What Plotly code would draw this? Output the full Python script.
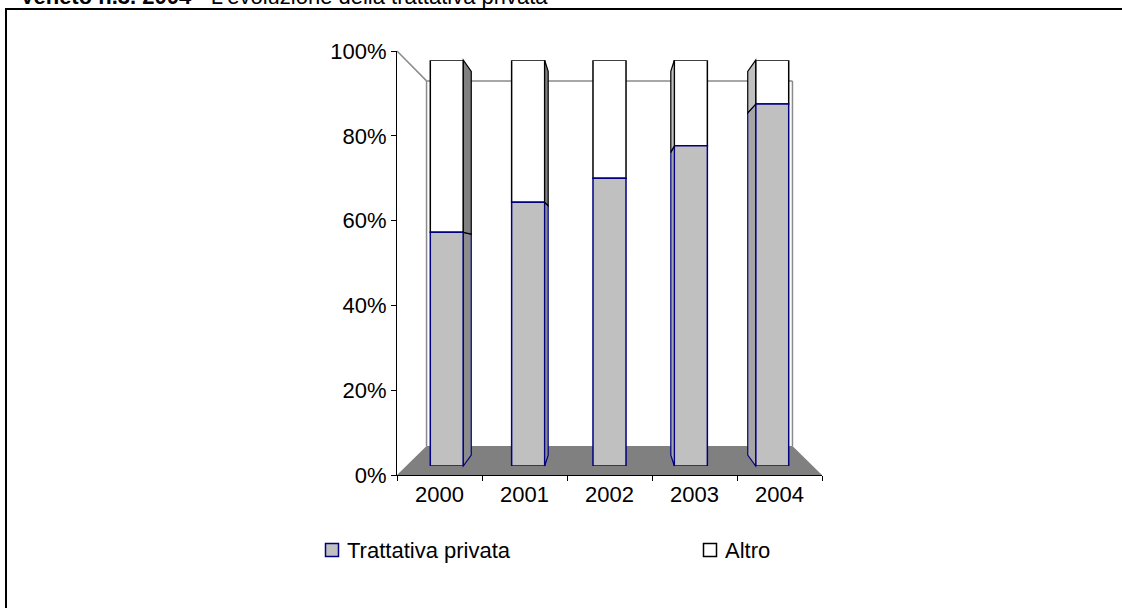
import plotly.graph_objects as go

# ---- data -------------------------------------------------------------
years = ["2000", "2001", "2002", "2003", "2004"]
trattativa_privata = [57.6, 65.0, 70.9, 78.9, 89.2]      # % share
altro = [round(100 - v, 1) for v in trattativa_privata]  # remaining share
y_ticks = [0, 20, 40, 60, 80, 100]
series_names = ["Trattativa privata", "Altro"]
title_bold = "Veneto n.3. 2004 - "
title_text = "L'evoluzione della trattativa privata"

# ---- page / pseudo-3D geometry (pixels) ------------------------------
W, H = 1122, 608
VPX, VPY = 609.5, 266.0          # vanishing point of the perspective box
FX0, FXW = 397.0, 85.0           # front plane: left edge, width of one category slot
FY0, FYS = 475.0, 4.24           # front plane: 0% baseline, pixels per percent
S_BAR_FRONT, S_BAR_BACK, S_WALL = 0.957, 0.905, 0.861
BAR_W = 0.406                    # bar width in category units
FONT = "Liberation Sans, Arial, sans-serif"
FS = 22

TRAT_FILL, TRAT_LINE = "#C0C0C0", "#000080"
ALT_FILL, ALT_LINE = "#FFFFFF", "#000000"


def proj(X, Y, s):
    """Project a box point (category units, percent, depth scale) to pixels."""
    px = VPX + (FX0 + FXW * X - VPX) * s
    py = VPY + (FY0 - FYS * Y - VPY) * s
    return px, py


def fx(px):
    return px / W


def fy(py):
    return (H - py) / H


def path(points):
    return "M " + " L ".join(f"{fx(x):.5f},{fy(y):.5f}" for x, y in points) + " Z"


n = len(years)
fig = go.Figure()

# invisible trace so the visible category axis carries the year labels
fig.add_trace(go.Scatter(x=years, y=[0] * n, mode="markers",
                         marker=dict(opacity=0), hoverinfo="skip",
                         showlegend=False, xaxis="x", yaxis="y"))

# bar front faces on the bar plane
fig.add_trace(go.Bar(x=years, y=altro, base=trattativa_privata, name=series_names[1],
                     marker=dict(color=ALT_FILL, line=dict(color=ALT_LINE, width=1.5)),
                     xaxis="x2", yaxis="y2", showlegend=False))
fig.add_trace(go.Bar(x=years, y=trattativa_privata, base=[0] * n, name=series_names[0],
                     marker=dict(color=TRAT_FILL, line=dict(color=TRAT_LINE, width=1.5)),
                     xaxis="x2", yaxis="y2", showlegend=False))

shapes = []

# floor
fl = [proj(0, 0, 1), proj(5, 0, 1), proj(5, 0, S_WALL), proj(0, 0, S_WALL)]
shapes.append(dict(type="path", path=path(fl), xref="paper", yref="paper",
                   fillcolor="#808080", line=dict(width=0), layer="below"))

# walls outline
wall_col = "#8a8a8a"
bl, tl = proj(0, 0, S_WALL), proj(0, 100, S_WALL)
tr, br = proj(5, 100, S_WALL), proj(5, 0, S_WALL)
ftl = proj(0, 100, 1)
for a, b in [(ftl, tl), (bl, tl), (tl, tr), (tr, br)]:
    shapes.append(dict(type="line", xref="paper", yref="paper",
                       x0=fx(a[0]), y0=fy(a[1]), x1=fx(b[0]), y1=fy(b[1]),
                       line=dict(color=wall_col, width=1.5), layer="below"))

# visible side faces of each bar
for i in range(n):
    c = i + 0.5
    cx, _ = proj(c, 0, S_BAR_FRONT)
    if abs(cx - VPX) < 1:
        continue
    right_side = cx < VPX
    X = c + BAR_W / 2 if right_side else c - BAR_W / 2
    segs = [(0, trattativa_privata[i], TRAT_LINE, "#8c8c8c" if right_side else "#a6a6a6"),
            (trattativa_privata[i], 100, ALT_LINE, "#808080" if right_side else "#c0c0c0")]
    for y0, y1, lc, fc in segs:
        pts = [proj(X, y0, S_BAR_FRONT), proj(X, y1, S_BAR_FRONT),
               proj(X, y1, S_BAR_BACK), proj(X, y0, S_BAR_BACK)]
        shapes.append(dict(type="path", path=path(pts), xref="paper", yref="paper",
                           fillcolor=fc, line=dict(color=lc, width=1.2), layer="above"))

# outer frame
shapes.append(dict(type="rect", xref="paper", yref="paper",
                   x0=fx(6), y0=fy(H + 20), x1=fx(W + 20), y1=fy(9),
                   line=dict(color="black", width=2), fillcolor="rgba(0,0,0,0)"))

# legend keys
legend_items = [(325.5, series_names[0], TRAT_FILL, TRAT_LINE),
                (703.5, series_names[1], ALT_FILL, ALT_LINE)]
annotations = []
for kx, label, fc, lc in legend_items:
    shapes.append(dict(type="rect", xref="paper", yref="paper",
                       x0=fx(kx), x1=fx(kx + 13), y0=fy(556.5), y1=fy(543.5),
                       fillcolor=fc, line=dict(color=lc, width=1.5)))
    annotations.append(dict(text=label, xref="paper", yref="paper",
                            x=fx(kx + 19), y=fy(550), xanchor="left", yanchor="middle",
                            showarrow=False, font=dict(family=FONT, size=FS, color="black")))

# heading
annotations.append(dict(text=f"<b>{title_bold}</b>{title_text}", xref="paper", yref="paper",
                        x=fx(18), y=fy(11), xanchor="left", yanchor="bottom",
                        showarrow=False, font=dict(family=FONT, size=FS, color="black")))

bx0, _ = proj(0, 0, S_BAR_FRONT)
bx1, _ = proj(5, 0, S_BAR_FRONT)
_, by0 = proj(0, 0, S_BAR_FRONT)
_, by1 = proj(0, 100, S_BAR_FRONT)

fig.update_layout(
    width=W, height=H, margin=dict(l=0, r=0, t=0, b=0, pad=0),
    paper_bgcolor="white", plot_bgcolor="rgba(0,0,0,0)",
    font=dict(family=FONT, size=FS, color="black"),
    barmode="overlay", bargap=1 - BAR_W,
    showlegend=False,
    xaxis=dict(domain=[fx(FX0), fx(FX0 + 5 * FXW)], anchor="y", type="category",
               categoryorder="array", categoryarray=years, range=[-0.5, n - 0.5],
               tickson="boundaries", ticks="outside", ticklen=5, tickcolor="black",
               showline=True, linecolor="black", linewidth=1, showgrid=False,
               zeroline=False, tickfont=dict(size=FS), automargin=False),
    yaxis=dict(domain=[fy(FY0), fy(FY0 - 100 * FYS)], anchor="x", range=[0, 100],
               tickvals=y_ticks, ticktext=[f"{v}%" for v in y_ticks],
               ticks="outside", ticklen=5, tickcolor="black",
               showline=True, linecolor="black", linewidth=1, showgrid=False,
               zeroline=False, tickfont=dict(size=FS), automargin=False),
    xaxis2=dict(domain=[fx(bx0), fx(bx1)], anchor="y2", type="category",
                categoryorder="array", categoryarray=years, range=[-0.5, n - 0.5],
                visible=False, automargin=False),
    yaxis2=dict(domain=[fy(by0), fy(by1)], anchor="x2", range=[0, 100],
                visible=False, automargin=False),
    shapes=shapes, annotations=annotations,
)

fig.write_html("out.html")
